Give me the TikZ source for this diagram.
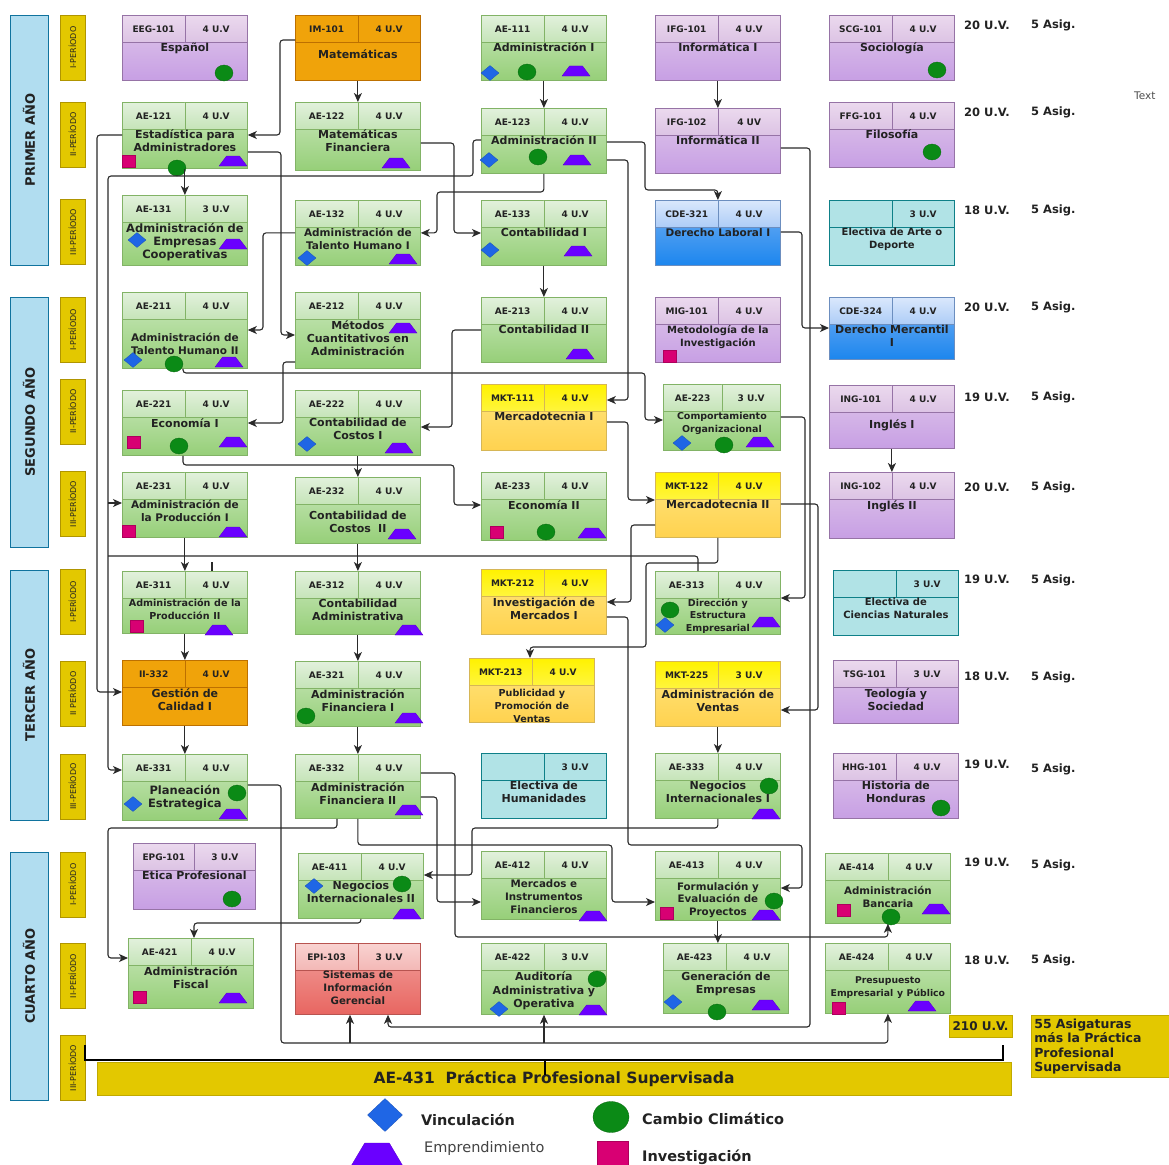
\documentclass[tikz,border=0pt]{standalone}
\usepackage{fontspec}
\setmainfont{DejaVu Sans}
\usetikzlibrary{shapes.geometric,arrows.meta,positioning}

\definecolor{texto}{HTML}{222222}
\definecolor{linea}{HTML}{2A2A2A}
\definecolor{verborde}{HTML}{82B366}
\definecolor{vercab1}{HTML}{E2F1DC}
\definecolor{vercab2}{HTML}{C5E4B8}
\definecolor{vercuer1}{HTML}{CBE8BE}
\definecolor{vercuer2}{HTML}{96CF78}
\definecolor{morborde}{HTML}{9673A6}
\definecolor{morcab1}{HTML}{EBD9EE}
\definecolor{morcab2}{HTML}{DCC3E4}
\definecolor{morcuer1}{HTML}{E0C8EA}
\definecolor{morcuer2}{HTML}{C79FE4}
\definecolor{narborde}{HTML}{BD7000}
\definecolor{narfondo}{HTML}{F0A30A}
\definecolor{amaborde}{HTML}{D6B656}
\definecolor{amacab1}{HTML}{FFF200}
\definecolor{amacab2}{HTML}{FFF53D}
\definecolor{amacuer1}{HTML}{FFE680}
\definecolor{amacuer2}{HTML}{FFD24F}
\definecolor{azuborde}{HTML}{6C8EBF}
\definecolor{azucab1}{HTML}{DAE8FC}
\definecolor{azucab2}{HTML}{ADCDF7}
\definecolor{azucuer1}{HTML}{74B0F4}
\definecolor{azucuer2}{HTML}{1C86EE}
\definecolor{celborde}{HTML}{0E8088}
\definecolor{celfondo}{HTML}{B1E3E6}
\definecolor{rojborde}{HTML}{B85450}
\definecolor{rojcab1}{HTML}{F9D3D1}
\definecolor{rojcab2}{HTML}{F3B8B5}
\definecolor{rojcuer1}{HTML}{F2A09C}
\definecolor{rojcuer2}{HTML}{E86661}
\definecolor{anioborde}{HTML}{10739E}
\definecolor{aniofondo}{HTML}{B1DDF0}
\definecolor{perborde}{HTML}{B09500}
\definecolor{perfondo}{HTML}{E3C800}
\definecolor{azulv}{HTML}{1F66E5}
\definecolor{verdek}{HTML}{0B8A16}
\definecolor{violeta}{HTML}{6A00FF}
\definecolor{rosa}{HTML}{D80073}

\tikzset{
        caja/.style={rectangle, anchor=north west, line width=0.8pt, inner sep=0pt},
        cab/.style={rectangle, line width=0.8pt, minimum height=27pt, inner sep=0pt, text=texto, font=\fontsize{9}{10.5}\selectfont\bfseries},
        titulo/.style={text width=121pt, align=center, inner sep=1pt, text=texto, font=\fontsize{11}{13}\selectfont\bfseries},
        ver caja/.style={draw=verborde, top color=vercuer1, bottom color=vercuer2},
        ver cab/.style={draw=verborde, top color=vercab1, bottom color=vercab2},
        mor caja/.style={draw=morborde, top color=morcuer1, bottom color=morcuer2},
        mor cab/.style={draw=morborde, top color=morcab1, bottom color=morcab2},
        nar caja/.style={draw=narborde, fill=narfondo},
        nar cab/.style={draw=narborde, fill=narfondo},
        ama caja/.style={draw=amaborde, top color=amacuer1, bottom color=amacuer2},
        ama cab/.style={draw=amaborde, top color=amacab1, bottom color=amacab2},
        azu caja/.style={draw=azuborde, top color=azucuer1, bottom color=azucuer2},
        azu cab/.style={draw=azuborde, top color=azucab1, bottom color=azucab2},
        cel caja/.style={draw=celborde, fill=celfondo},
        cel cab/.style={draw=celborde, fill=celfondo},
        roj caja/.style={draw=rojborde, top color=rojcuer1, bottom color=rojcuer2},
        roj cab/.style={draw=rojborde, top color=rojcab1, bottom color=rojcab2},
        anio/.style={rectangle, rotate=90, draw=anioborde, fill=aniofondo, line width=0.8pt, minimum height=38pt, text=texto, font=\fontsize{13}{15}\selectfont\bfseries},
        periodo/.style={rectangle, rotate=90, draw=perborde, fill=perfondo, line width=0.6pt, minimum width=65pt, minimum height=25pt, inner sep=0pt, text=texto, font=\fontsize{8}{9.5}\selectfont},
        uv/.style={anchor=west, inner sep=0pt, text=texto, font=\fontsize{11.5}{13}\selectfont\bfseries},
        vinc/.style={diamond, fill=azulv, draw=azulv!80!black, line width=0.3pt, minimum width=18pt, minimum height=15pt, inner sep=0.5pt},
        clima/.style={ellipse, fill=verdek, draw=verdek!75!black, line width=0.3pt, minimum width=18pt, minimum height=16pt, inner sep=0.5pt},
        empr/.style={trapezium, trapezium stretches=true, trapezium left angle=60, trapezium right angle=60, fill=violeta, draw=violeta!80!black, line width=0.3pt, minimum width=28pt, minimum height=10pt, inner sep=1pt},
        inv/.style={rectangle, fill=rosa, draw=rosa!80!black, line width=0.3pt, minimum width=13pt, minimum height=12pt, inner sep=0.5pt},
        amarilla/.style={rectangle, fill=perfondo, draw=perfondo!85!black, line width=0.6pt, text=texto},
        leyenda/.style={anchor=west, inner sep=0pt, text=texto, font=\fontsize{14.5}{17}\selectfont\bfseries},
        flecha/.style={draw=linea, line width=1.1pt, rounded corners=3pt, -{Stealth[length=9pt,width=8pt,inset=2.5pt]}},
        traza/.style={draw=linea, line width=1.1pt, rounded corners=3pt},
        corchete/.style={draw=black, line width=1.8pt}
          }

% materia: nombre, x, y, ancho, alto, color, codigo, unidades, titulo
\newcommand{\materia}[9]{%
  \node[caja, #6 caja, minimum width=#4pt, minimum height=#5pt] (#1) at (#2,#3) {};
  \node[cab, #6 cab, minimum width=#4pt/2, anchor=north west] (#1c) at (#1.north west) {#7};
  \node[cab, #6 cab, minimum width=#4pt/2, anchor=north east] (#1u) at (#1.north east) {#8};
  \node[titulo, anchor=north] (#1t) at ([yshift=-27pt]#1.north) {#9};
}
\newcommand{\tam}[2]{\fontsize{#1}{#2}\selectfont}

\begin{document}
\begin{tikzpicture}[x=1pt, y=-1pt]
        \useasboundingbox (0,0) rectangle (1169,1164);
        \fill[white] (0,0) rectangle (1169,1164);

        % anios y periodos
        \node[anio, minimum width=250pt] (primero) at (29,140) {PRIMER AÑO};
        \node[anio, minimum width=250pt] (segundo) at (29,422) {SEGUNDO AÑO};
        \node[anio, minimum width=250pt] (tercero) at (29,695) {TERCER AÑO};
        \node[anio, minimum width=248pt] (cuarto) at (29,976) {CUARTO AÑO};
        \node[periodo] (p11) at (72.5,47.5) {I-PERÍODO};
        \node[periodo] (p12) at (72.5,134.5) {II-PERÍODO};
        \node[periodo] (p13) at (72.5,232) {III-PERÍODO};
        \node[periodo] (p21) at (72.5,330) {I-PERÍODO};
        \node[periodo] (p22) at (72.5,411.5) {II-PERÍODO};
        \node[periodo] (p23) at (72.5,504) {III-PERÍODO};
        \node[periodo] (p31) at (72.5,602) {I-PERÍODO};
        \node[periodo] (p32) at (72.5,693.5) {II PERÍODO};
        \node[periodo] (p33) at (72.5,786.5) {III-PERÍODO};
        \node[periodo] (p41) at (72.5,884.5) {I-PERÍODO};
        \node[periodo] (p42) at (72.5,976) {II-PERÍODO};
        \node[periodo] (p43) at (72.5,1068) {III-PERÍODO};

        % primer anio
        \materia{eeg101}{122}{15}{125}{65}{mor}{EEG-101}{4 U.V}{Español}
        \materia{im101}{295}{15}{125}{65}{nar}{IM-101}{4 U.V}{\rule{0pt}{15pt}Matemáticas}
        \materia{ae111}{481}{15}{125}{65}{ver}{AE-111}{4 U.V}{Administración I}
        \materia{ifg101}{655}{15}{125}{65}{mor}{IFG-101}{4 U.V}{Informática I}
        \materia{scg101}{829}{15}{125}{65}{mor}{SCG-101}{4 U.V}{Sociología}
        \materia{ae121}{122}{102}{125}{66}{ver}{AE-121}{4 U.V}{Estadística para\\Administradores}
        \materia{ae122}{295}{102}{125}{68}{ver}{AE-122}{4 U.V}{Matemáticas\\Financiera}
        \materia{ae123}{481}{108}{125}{65}{ver}{AE-123}{4 U.V}{Administración II}
        \materia{ifg102}{655}{108}{125}{65}{mor}{IFG-102}{4 UV}{Informática II}
        \materia{ffg101}{829}{102}{125}{65}{mor}{FFG-101}{4 U.V}{Filosofía}
        \materia{ae131}{122}{195}{125}{70}{ver}{AE-131}{3 U.V}{\tam{11.5}{13.5}Administración de\\Empresas\\Cooperativas}
        \materia{ae132}{295}{200}{125}{65}{ver}{AE-132}{4 U.V}{\tam{10.5}{12}Administración de\\Talento Humano I}
        \materia{ae133}{481}{200}{125}{65}{ver}{AE-133}{4 U.V}{Contabilidad I}
        \materia{cde321}{655}{200}{125}{65}{azu}{CDE-321}{4 U.V}{\tam{10.5}{12}Derecho Laboral I}
        \materia{elec1}{829}{200}{125}{65}{cel}{}{3 U.V}{\tam{10}{14}Electiva de Arte o\\Deporte}

        % segundo anio
        \materia{ae211}{122}{292}{125}{76}{ver}{AE-211}{4 U.V}{\tam{10.5}{12.5}\rule{0pt}{21pt}Administración de\\Talento Humano II}
        \materia{ae212}{295}{292}{125}{76}{ver}{AE-212}{4 U.V}{Métodos\\Cuantitativos en\\Administración}
        \materia{ae213}{481}{297}{125}{65}{ver}{AE-213}{4 U.V}{Contabilidad II}
        \materia{mig101}{655}{297}{125}{65}{mor}{MIG-101}{4 U.V}{\tam{10}{13}Metodología de la\\Investigación}
        \materia{cde324}{829}{297}{125}{62}{azu}{CDE-324}{4 U.V}{Derecho Mercantil\\I}
        \materia{ae221}{122}{390}{125}{65}{ver}{AE-221}{4 U.V}{Economía I}
        \materia{ae222}{295}{390}{125}{65}{ver}{AE-222}{4 U.V}{Contabilidad de\\Costos I}
        \materia{mkt111}{481}{384}{125}{66}{ama}{MKT-111}{4 U.V}{Mercadotecnia I}
        \materia{ae223}{663}{384}{117}{66}{ver}{AE-223}{3 U.V}{\tam{9.5}{11}Comportamiento\\Organizacional}
        \materia{ing101}{829}{385}{125}{63}{mor}{ING-101}{4 U.V}{\rule{0pt}{15pt}Inglés I}
        \materia{ae231}{122}{472}{125}{65}{ver}{AE-231}{4 U.V}{\tam{10.5}{13}Administración de\\la Producción I}
        \materia{ae232}{295}{477}{125}{66}{ver}{AE-232}{4 U.V}{\rule{0pt}{14pt}Contabilidad de\\Costos\ \ II}
        \materia{ae233}{481}{472}{125}{68}{ver}{AE-233}{4 U.V}{Economía II}
        \materia{mkt122}{655}{472}{125}{65}{ama}{MKT-122}{4 U.V}{Mercadotecnia II}
        \materia{ing102}{829}{472}{125}{66}{mor}{ING-102}{4 U.V}{Inglés II}

        % tercer anio
        \materia{ae311}{122}{571}{125}{62}{ver}{AE-311}{4 U.V}{\tam{9.6}{11}Administración de la\\Producción II}
        \materia{ae312}{295}{571}{125}{63}{ver}{AE-312}{4 U.V}{Contabilidad\\Administrativa}
        \materia{mkt212}{481}{569}{125}{65}{ama}{MKT-212}{4 U.V}{Investigación de\\Mercados I}
        \materia{ae313}{655}{571}{125}{63}{ver}{AE-313}{4 U.V}{\tam{9.5}{11.5}Dirección y\\Estructura\\Empresarial}
        \materia{elec2}{833}{570}{125}{65}{cel}{}{3 U.V}{\tam{10}{12.5}Electiva de\\Ciencias Naturales}
        \materia{ii332}{122}{660}{125}{65}{nar}{II-332}{4 U.V}{Gestión de\\Calidad I}
        \materia{ae321}{295}{661}{125}{65}{ver}{AE-321}{4 U.V}{Administración\\Financiera I}
        \materia{mkt213}{469}{658}{125}{64}{ama}{MKT-213}{4 U.V}{\tam{9.6}{12.5}\rule{0pt}{10.5pt}Publicidad y\\Promoción de\\Ventas}
        \materia{mkt225}{655}{661}{125}{65}{ama}{MKT-225}{3 U.V}{Administración de\\Ventas}
        \materia{tsg101}{833}{660}{125}{63}{mor}{TSG-101}{3 U.V}{Teología y\\Sociedad}
        \materia{ae331}{122}{754}{125}{66}{ver}{AE-331}{4 U.V}{\tam{11.5}{14.5}\rule{0pt}{12.7pt}Planeación\\Estrategica}
        \materia{ae332}{295}{754}{125}{64}{ver}{AE-332}{4 U.V}{Administración\\Financiera II}
        \materia{elec3}{481}{753}{125}{65}{cel}{}{3 U.V}{Electiva de\\Humanidades}
        \materia{ae333}{655}{753}{125}{65}{ver}{AE-333}{4 U.V}{Negocios\\Internacionales I}
        \materia{hhg101}{833}{753}{125}{65}{mor}{HHG-101}{4 U.V}{Historia de\\Honduras}

        % cuarto anio
        \materia{epg101}{133}{843}{122}{66}{mor}{EPG-101}{3 U.V}{Etica Profesional}
        \materia{ae411}{298}{853}{125}{65}{ver}{AE-411}{4 U.V}{Negocios\\Internacionales II}
        \materia{ae412}{481}{851}{125}{68}{ver}{AE-412}{4 U.V}{\tam{10.3}{13}Mercados e\\Instrumentos\\Financieros}
        \materia{ae413}{655}{851}{125}{69}{ver}{AE-413}{4 U.V}{\tam{10.3}{12.5}\rule{0pt}{10.8pt}Formulación y\\Evaluación de\\Proyectos}
        \materia{ae414}{825}{853}{125}{70}{ver}{AE-414}{4 U.V}{\tam{10.3}{13}\rule{0pt}{12.8pt}Administración\\Bancaria}
        \materia{ae421}{128}{938}{125}{70}{ver}{AE-421}{4 U.V}{Administración\\Fiscal}
        \materia{epi103}{295}{943}{125}{71}{roj}{EPI-103}{3 U.V}{\tam{10.2}{13}Sistemas de\\Información\\Gerencial}
        \materia{ae422}{481}{943}{125}{71}{ver}{AE-422}{3 U.V}{\tam{11}{14.5}Auditoría\\Administrativa y\\Operativa}
        \materia{ae423}{663}{943}{125}{70}{ver}{AE-423}{4 U.V}{\tam{11}{14.5}Generación de\\Empresas}
        \materia{ae424}{825}{943}{125}{70}{ver}{AE-424}{4 U.V}{\tam{9.3}{11}\rule{0pt}{12pt}Presupuesto\\Empresarial y Público}

        % iconos
        \node[clima] (eeg101-k) at (224,73) {};
        \node[vinc] (ae111-v) at (490,73) {};
        \node[clima] (ae111-k) at (527,72) {};
        \node[empr] (ae111-e) at (576,71) {};
        \node[clima] (scg101-k) at (937,70) {};
        \node[inv] (ae121-r) at (129,161) {};
        \node[empr] (ae121-e) at (233,161) {};
        \node[clima] (ae121-k) at (177,168) {};
        \node[empr] (ae122-e) at (396,163) {};
        \node[vinc] (ae123-v) at (489,160) {};
        \node[clima] (ae123-k) at (538,157) {};
        \node[empr] (ae123-e) at (577,160) {};
        \node[clima] (ffg101-k) at (932,152) {};
        \node[vinc] (ae131-v) at (137,240) {};
        \node[empr] (ae131-e) at (233,244) {};
        \node[vinc] (ae132-v) at (307,258) {};
        \node[empr] (ae132-e) at (403,259) {};
        \node[vinc] (ae133-v) at (490,250) {};
        \node[empr] (ae133-e) at (578,251) {};
        \node[vinc] (ae211-v) at (133,360) {};
        \node[clima] (ae211-k) at (174,364) {};
        \node[empr] (ae211-e) at (229,362) {};
        \node[empr] (ae212-e) at (403,328) {};
        \node[empr] (ae213-e) at (580,354) {};
        \node[inv] (mig101-r) at (670,356) {};
        \node[inv] (ae221-r) at (134,442) {};
        \node[clima] (ae221-k) at (179,446) {};
        \node[empr] (ae221-e) at (233,442) {};
        \node[vinc] (ae222-v) at (307,444) {};
        \node[empr] (ae222-e) at (399,448) {};
        \node[vinc] (ae223-v) at (682,443) {};
        \node[clima] (ae223-k) at (724,445) {};
        \node[empr] (ae223-e) at (760,442) {};
        \node[inv] (ae231-r) at (129,531) {};
        \node[empr] (ae231-e) at (233,532) {};
        \node[empr] (ae232-e) at (402,534) {};
        \node[inv] (ae233-r) at (497,532) {};
        \node[clima] (ae233-k) at (546,532) {};
        \node[empr] (ae233-e) at (592,533) {};
        \node[inv] (ae311-r) at (137,626) {};
        \node[empr] (ae311-e) at (219,630) {};
        \node[empr] (ae312-e) at (409,630) {};
        \node[clima] (ae313-k) at (670,610) {};
        \node[vinc] (ae313-v) at (665,625) {};
        \node[empr] (ae313-e) at (766,622) {};
        \node[clima] (ae321-k) at (306,716) {};
        \node[empr] (ae321-e) at (409,718) {};
        \node[vinc] (ae331-v) at (133,804) {};
        \node[clima] (ae331-k) at (237,793) {};
        \node[empr] (ae331-e) at (233,814) {};
        \node[empr] (ae332-e) at (409,810) {};
        \node[clima] (ae333-k) at (769,786) {};
        \node[empr] (ae333-e) at (766,814) {};
        \node[clima] (hhg101-k) at (941,808) {};
        \node[clima] (epg101-k) at (232,899) {};
        \node[vinc] (ae411-v) at (314,886) {};
        \node[clima] (ae411-k) at (402,884) {};
        \node[empr] (ae411-e) at (407,914) {};
        \node[empr] (ae412-e) at (593,916) {};
        \node[inv] (ae413-r) at (667,913) {};
        \node[clima] (ae413-k) at (774,901) {};
        \node[empr] (ae413-e) at (766,915) {};
        \node[inv] (ae414-r) at (844,910) {};
        \node[clima] (ae414-k) at (891,917) {};
        \node[empr] (ae414-e) at (936,909) {};
        \node[inv] (ae421-r) at (140,997) {};
        \node[empr] (ae421-e) at (233,998) {};
        \node[clima] (ae422-k) at (597,979) {};
        \node[vinc] (ae422-v) at (499,1009) {};
        \node[empr] (ae422-e) at (593,1010) {};
        \node[vinc] (ae423-v) at (673,1002) {};
        \node[clima] (ae423-k) at (717,1012) {};
        \node[empr] (ae423-e) at (766,1005) {};
        \node[inv] (ae424-r) at (839,1008) {};
        \node[empr] (ae424-e) at (922,1006) {};

        % unidades por periodo
        \node[uv] (uv1) at (964,25) {20 U.V.};
        \node[uv] (as1) at (1031,25) {5 Asig.};
        \node[uv] (uv2) at (964,112) {20 U.V.};
        \node[uv] (as2) at (1031,112) {5 Asig.};
        \node[uv] (uv3) at (964,210) {18 U.V.};
        \node[uv] (as3) at (1031,210) {5 Asig.};
        \node[uv] (uv4) at (964,307) {20 U.V.};
        \node[uv] (as4) at (1031,307) {5 Asig.};
        \node[uv] (uv5) at (964,397) {19 U.V.};
        \node[uv] (as5) at (1031,397) {5 Asig.};
        \node[uv] (uv6) at (964,487) {20 U.V.};
        \node[uv] (as6) at (1031,487) {5 Asig.};
        \node[uv] (uv7) at (964,579) {19 U.V.};
        \node[uv] (as7) at (1031,580) {5 Asig.};
        \node[uv] (uv8) at (964,676) {18 U.V.};
        \node[uv] (as8) at (1031,677) {5 Asig.};
        \node[uv] (uv9) at (964,764) {19 U.V.};
        \node[uv] (as9) at (1031,769) {5 Asig.};
        \node[uv] (uv10) at (964,862) {19 U.V.};
        \node[uv] (as10) at (1031,865) {5 Asig.};
        \node[uv] (uv11) at (964,960) {18 U.V.};
        \node[uv] (as11) at (1031,960) {5 Asig.};
        \node[anchor=west, inner sep=0pt, text=texto!80, font=\fontsize{10.5}{12}\selectfont] (nota) at (1134,96) {Text};

        % practica y totales
        \node[amarilla, minimum width=914pt, minimum height=33pt, font=\fontsize{15.5}{18}\selectfont\bfseries] (ae431) at (554,1078.5) {AE-431\ \ Práctica Profesional Supervisada};
        \node[amarilla, minimum width=63pt, minimum height=22pt, inner sep=0pt, font=\fontsize{12}{14}\selectfont\bfseries] (total) at (980.5,1026) {210 U.V.};
        \node[amarilla, anchor=north west, minimum width=138pt, minimum height=62pt, text width=132pt, inner sep=2pt, align=left, font=\fontsize{12.5}{14.5}\selectfont\bfseries] (asignaturas) at (1031,1015) {55 Asigaturas\\más la Práctica\\Profesional\\Supervisada};
        \coordinate (cizq) at (85,1045);
        \coordinate (cder) at (1003,1045);
        \coordinate (ctic) at (545,1060);
        \draw[corchete] (cizq) |- (cder |- ctic) -- (cder);
        \draw[corchete] (ctic) -- (ctic |- 0,1075);

        % leyenda
        \node[vinc, minimum width=35pt, minimum height=33pt] (leyv) at (385,1115) {};
        \node[leyenda] (leyvt) at (421,1120) {Vinculación};
        \node[empr, minimum width=53pt, minimum height=24pt] (leye) at (377,1155) {};
        \node[leyenda, font=\fontsize{14.5}{17}\selectfont, text=texto!85] (leyet) at (424,1148) {Emprendimiento};
        \node[clima, minimum width=36pt, minimum height=31pt] (leyk) at (611,1117) {};
        \node[leyenda] (leykt) at (642,1119) {Cambio Climático};
        \node[inv, minimum width=31pt, minimum height=25pt] (leyr) at (613,1154) {};
        \node[leyenda] (leyrt) at (642,1157) {Investigación};

        % prerrequisitos primer anio
        \draw[flecha] (im101.west |- 0,40) -| (280,135) -- (ae121.east |- 0,135);
        \draw[flecha] (im101.south) -- (ae122.north);
        \draw[flecha] (ae111.south) -- (ae123.north);
        \draw[flecha] (ifg101.south) -- (ifg102.north);
        \draw[flecha] (ae121.south) -- (ae131.north);
        \draw[flecha] (ae121.west |- 0,135) -| (97,692) -- (ii332.west |- 0,692);
        \draw[flecha] (ae121.east |- 0,152) -| (281,335) -- (ae212.west |- 0,335);
        \draw[flecha] (ae122.east |- 0,143) -| (454,233) -- (ae133.west |- 0,233);
        \draw[flecha] (ae123.south) |- (437,192) |- (ae132.east);
        \draw[flecha] (ae123.east |- 0,142) -| (645,190) -| (cde321.north);
        \draw[flecha] (ae123.east |- 0,160) -| (628,400) -- (mkt111.east |- 0,400);
        \draw[flecha] (ae123.west |- 0,140) -| (473,176) -| (108,770) -- (ae331.west |- 0,770);
        \coordinate (t1) at (108,503);
        \coordinate (t2) at (108,556);
        \draw[flecha] (t1) -- (ae231.west |- t1);
        \draw[traza] (t2) -| (698,0 |- ae313.north);
        \draw[flecha] (ifg102.east |- 0,148) -| (810,1027) -| (epi103.south -| 388,0);
        \draw[flecha] (cde321.east |- 0,232) -| (802,328) -- (cde324.west |- 0,328);
        \draw[flecha] (ae132.west) -| (263,330) -- (ae211.east |- 0,330);
        \draw[flecha] (ae133.south) -- (ae213.north);

        % prerrequisitos segundo anio
        \draw[flecha] (ae212.west |- 0,362) -| (283,423) -- (ae221.east |- 0,423);
        \draw[flecha] (183,0 |- ae211.south) |- (645,373) |- (ae223.west |- 0,420);
        \draw[flecha] (ae213.west |- 0,330) -| (452,427) -- (ae222.east |- 0,427);
        \draw[flecha] (ae222.south) -- (ae232.north);
        \draw[flecha] (183,0 |- ae221.south) |- (454,465) |- (ae233.west |- 0,505);
        \draw[flecha] (mkt111.east |- 0,422) -| (628,500) -- (mkt122.west |- 0,500);
        \draw[flecha] (ae223.east |- 0,417) -| (805,598) -- (ae313.east |- 0,598);
        \draw[flecha] (mkt122.east |- 0,504) -| (818,710) -- (mkt225.east |- 0,710);
        \draw[flecha] (mkt122.west |- 0,525) -| (631,602) -- (mkt212.east |- 0,602);
        \draw[flecha] (mkt122.south) |- (646,563) |- (530,647) -- (530,0 |- mkt213.north);
        \draw[flecha] (ae231.south) -- (ae311.north);
        \coordinate (marca) at (212,562);
        \draw[traza] (marca) -- (marca |- ae311.north);
        \draw[flecha] (ae232.south) -- (ae312.north);
        \draw[flecha] (ing101.south) -- (ing102.north);

        % prerrequisitos tercer anio
        \draw[flecha] (ae311.south) -- (ii332.north);
        \draw[flecha] (ii332.south) -- (ae331.north);
        \draw[flecha] (ae312.south) -- (ae321.north);
        \draw[flecha] (ae321.south) -- (ae332.north);
        \draw[flecha] (mkt225.south) -- (ae333.north);
        \draw[flecha] (ae331.east |- 0,785) -| (281,1043) -| (ae424.south);
        \coordinate (t3) at (350,1043);
        \coordinate (t4) at (544,1043);
        \draw[flecha] (t3) -- (t3 |- epi103.south);
        \draw[flecha] (t4) -- (t4 |- ae422.south);
        \draw[flecha] (337,0 |- ae332.south) |- (108,828) |- (ae421.west |- 0,958);
        \draw[flecha] (ae332.south) |- (612,845) |- (ae413.west |- 0,902);
        \draw[flecha] (ae332.east |- 0,797) -| (437,902) -- (ae412.west |- 0,902);
        \draw[flecha] (ae332.east |- 0,773) -| (455,937) -| (ae414.south);
        \draw[flecha] (mkt212.east |- 0,617) -| (628,845) -| (802,888) -- (ae413.east |- 0,888);
        \draw[flecha] (ae333.south) |- (472,828) |- (ae411.east |- 0,875);
        \draw[flecha] (ae411.south) |- (194,923) -- (194,0 |- ae421.north);
        \draw[flecha] (ae413.south) -- (ae413.south |- ae423.north);
\end{tikzpicture}
\end{document}
